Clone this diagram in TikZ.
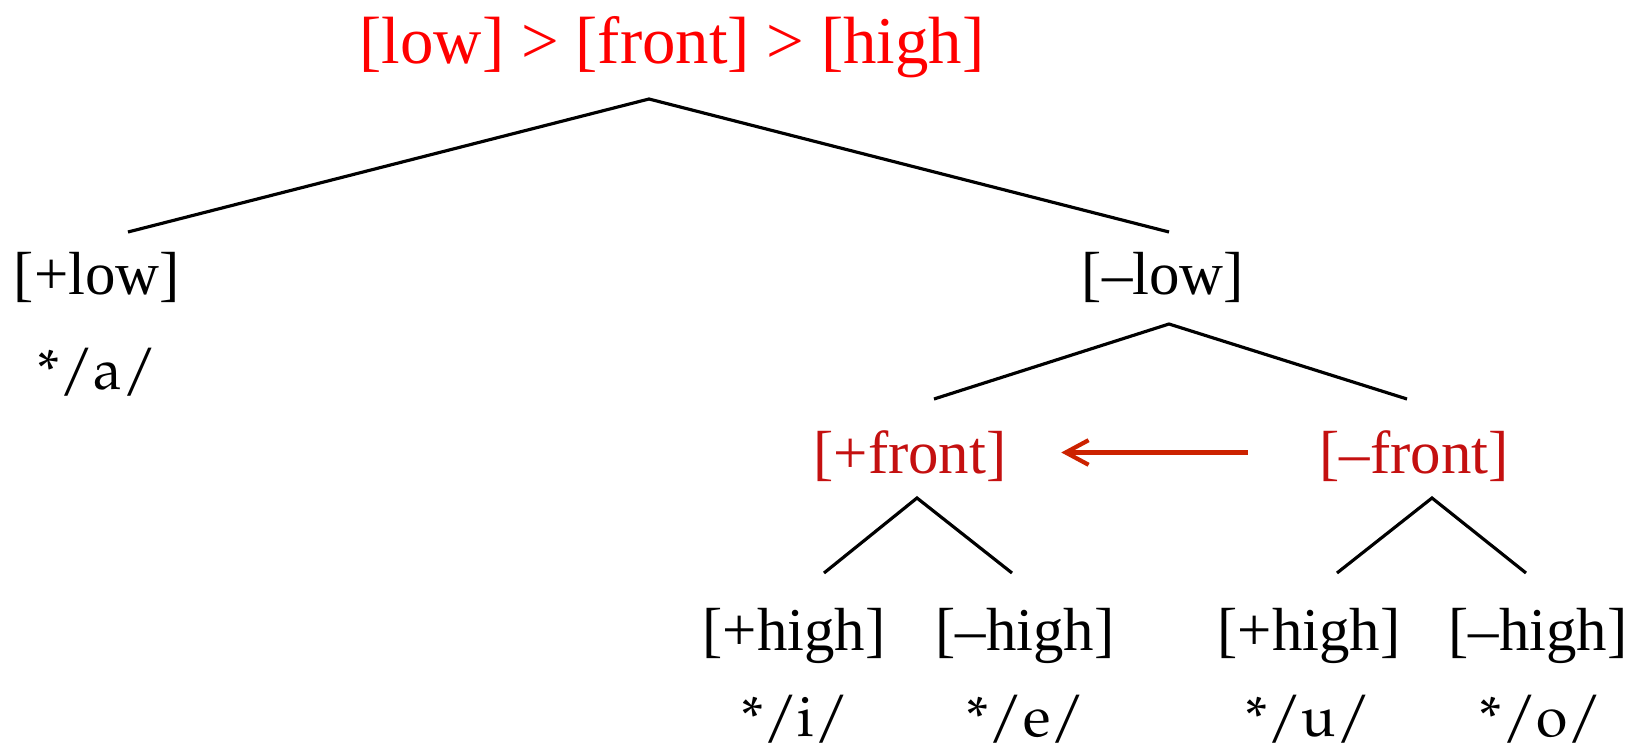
\documentclass[tikz,border=0pt]{standalone}
\usepackage{fontspec}
\setmainfont{Liberation Serif}
\usetikzlibrary{arrows.meta}
\definecolor{TopRed}{RGB}{255,0,0}
\definecolor{FrontRed}{RGB}{196,16,16}
\definecolor{ArrowRed}{RGB}{204,34,0}
\newcommand{\phonfont}{\fontencoding{T1}\fontfamily{ppl}\fontsize{16.2pt}{19pt}\selectfont}

\begin{document}
\begin{tikzpicture}[x=0.01cm,y=-0.01cm,
  feat/.style={inner sep=0pt,font=\fontsize{17.3pt}{20pt}\selectfont},
  phon/.style={inner sep=0pt,font=\phonfont},
  branch/.style={line width=0.9pt}]
\useasboundingbox (0,0) rectangle (1647,751);
% hierarchy
\node[inner sep=0pt,text=TopRed,font=\fontsize{19pt}{22pt}\selectfont] (top) at (672,47) {[low] > [front] > [high]};
\node[feat] (plow) at (97,277) {[+low]};
\node[feat] (mlow) at (1163,277) {[–low]};
\node[feat,text=FrontRed] (pfront) at (910,456) {[+front]};
\node[feat,text=FrontRed] (mfront) at (1414,456) {[–front]};
\node[feat] (phighA) at (794,636) {[+high]};
\node[feat] (mhighA) at (1025,636) {[–high]};
\node[feat] (phighB) at (1309,636) {[+high]};
\node[feat] (mhighB) at (1538,636) {[–high]};
% vowels
\node[phon] (va) at (97,372) {*/a/};
\node[phon] (vi) at (795,719) {*/i/};
\node[phon] (ve) at (1026,719) {*/e/};
\node[phon] (vu) at (1308,719) {*/u/};
\node[phon] (vo) at (1541,719) {*/o/};
% branches
\coordinate (r0) at (649,99);
\coordinate (r1) at (128,232);
\coordinate (r2) at (1169,232);
\coordinate (l0) at (1169,324);
\coordinate (l1) at (934,399);
\coordinate (l2) at (1407,399);
\coordinate (f0) at (917,498);
\coordinate (f1) at (824,573);
\coordinate (f2) at (1012,573);
\coordinate (b0) at (1432,498);
\coordinate (b1) at (1337,573);
\coordinate (b2) at (1526,573);
\draw[branch] (r1) -- (r0) -- (r2);
\draw[branch] (l1) -- (l0) -- (l2);
\draw[branch] (f1) -- (f0) -- (f2);
\draw[branch] (b1) -- (b0) -- (b2);
\draw[ArrowRed,line width=1.2pt,-{Straight Barb[length=6.5pt,width=7pt]},
  shorten <=0.71cm,shorten >=0.54cm] ([yshift=1pt]mfront.west) -- ([yshift=1pt]pfront.east);
\end{tikzpicture}
\end{document}
